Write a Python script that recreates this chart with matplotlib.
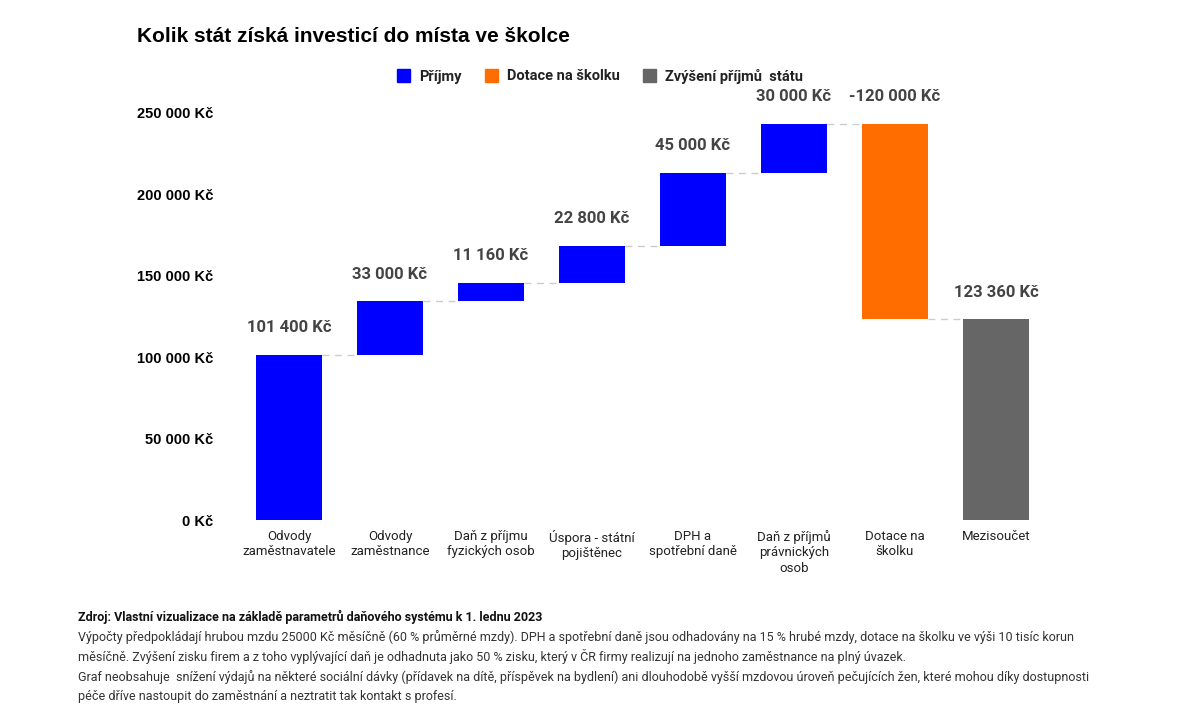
import numpy as np
import matplotlib.pyplot as plt
from matplotlib.patches import Patch

plt.rcParams['font.family'] = ['Roboto', 'DejaVu Sans']

# data
categories = ['Odvody\nzaměstnavatele', 'Odvody\nzaměstnance', 'Daň z příjmu\nfyzických osob',
              'Úspora - státní\npojištěnec', 'DPH a\nspotřební daně', 'Daň z příjmů\nprávnických\nosob',
              'Dotace na\nškolku', 'Mezisoučet']
changes = [101400, 33000, 11160, 22800, 45000, 30000, -120000]
value_labels = ['101 400 Kč', '33 000 Kč', '11 160 Kč', '22 800 Kč', '45 000 Kč', '30 000 Kč',
                '-120 000 Kč', '123 360 Kč']
yticks = [0, 50000, 100000, 150000, 200000, 250000]
ytick_labels = ['0 Kč', '50 000 Kč', '100 000 Kč', '150 000 Kč', '200 000 Kč', '250 000 Kč']
legend_labels = ['Příjmy', 'Dotace na školku', 'Zvýšení příjmů  státu']

c_blue = '#0000ff'
c_orange = '#ff6d00'
c_gray = '#666666'

# waterfall
cum = np.cumsum(changes)
total = cum[-1]
bottoms, heights, colors = [], [], []
prev = 0
for v, c in zip(changes, cum):
    bottoms.append(min(prev, c))
    heights.append(abs(v))
    colors.append(c_blue if v > 0 else c_orange)
    prev = c
bottoms.append(0)
heights.append(total)
colors.append(c_gray)
tops = [b + h for b, h in zip(bottoms, heights)]
levels = list(cum)

fig = plt.figure(figsize=(12, 7.2), dpi=100)
ax = fig.add_axes([238.5/1200, 200/720, 808/1200, 407/720])

x = np.arange(len(categories))
w = 0.645
ax.bar(x, heights, bottom=bottoms, width=w, color=colors, zorder=2)

# connectors
for i, lv in enumerate(levels):
    ax.plot([x[i] + w/2, x[i+1] - w/2], [lv, lv], color='#cccccc', lw=1,
            ls=(0, (5, 4)), zorder=1)

for i, t in enumerate(tops):
    ax.annotate(value_labels[i], (x[i], t), xytext=(0, 19.5), textcoords='offset points',
                ha='center', va='center', fontsize=12, fontweight='bold', color='#444444',
                annotation_clip=False)

ax.set_ylim(0, 250000)
ax.set_xlim(-0.5, len(categories) - 0.5)
ax.set_yticks(yticks)
ax.set_yticklabels(ytick_labels, fontsize=10.5, fontweight='bold', family=['Liberation Sans', 'DejaVu Sans'])
ax.set_xticks(x)
ax.set_xticklabels(categories, fontsize=9.5, color='#222222', linespacing=1.25)
ax.tick_params(axis='y', length=0, pad=18)
ax.tick_params(axis='x', length=0, pad=7)
for s in ax.spines.values():
    s.set_visible(False)

fig.text(137/1200, 1 - 36/720, 'Kolik stát získá investicí do místa ve školce', fontsize=15,
         fontweight='bold', family=['Liberation Sans', 'DejaVu Sans'], va='center', ha='left')

handles = [Patch(color=c) for c in [c_blue, c_orange, c_gray]]
fig.legend(handles, legend_labels, loc='center', bbox_to_anchor=(600/1200, 1 - 76/720), ncol=3,
           frameon=False, prop={'size': 10.5, 'weight': 'bold'}, handlelength=0.9, handleheight=0.9,
           handletextpad=0.6, columnspacing=1.6, labelcolor='#222222')

fig.text(78/1200, 1 - 617/720, 'Zdroj: Vlastní vizualizace na základě parametrů daňového systému k 1. lednu 2023',
         fontsize=9.0, fontweight='bold', va='center', color='#111111')
notes = ['Výpočty předpokládají hrubou mzdu 25000 Kč měsíčně (60 % průměrné mzdy). DPH a spotřební daně jsou odhadovány na 15 % hrubé mzdy, dotace na školku ve výši 10 tisíc korun',
         'měsíčně. Zvýšení zisku firem a z toho vyplývající daň je odhadnuta jako 50 % zisku, který v ČR firmy realizují na jednoho zaměstnance na plný úvazek.',
         'Graf neobsahuje  snížení výdajů na některé sociální dávky (přídavek na dítě, příspěvek na bydlení) ani dlouhodobě vyšší mzdovou úroveň pečujících žen, které mohou díky dostupnosti',
         'péče dříve nastoupit do zaměstnání a neztratit tak kontakt s profesí.']
for k, line in enumerate(notes):
    fig.text(78/1200, 1 - (637 + 19.8*k)/720, line, fontsize=9.0, va='center', color='#333333')

fig.savefig('out.png', dpi=100, facecolor='white')
